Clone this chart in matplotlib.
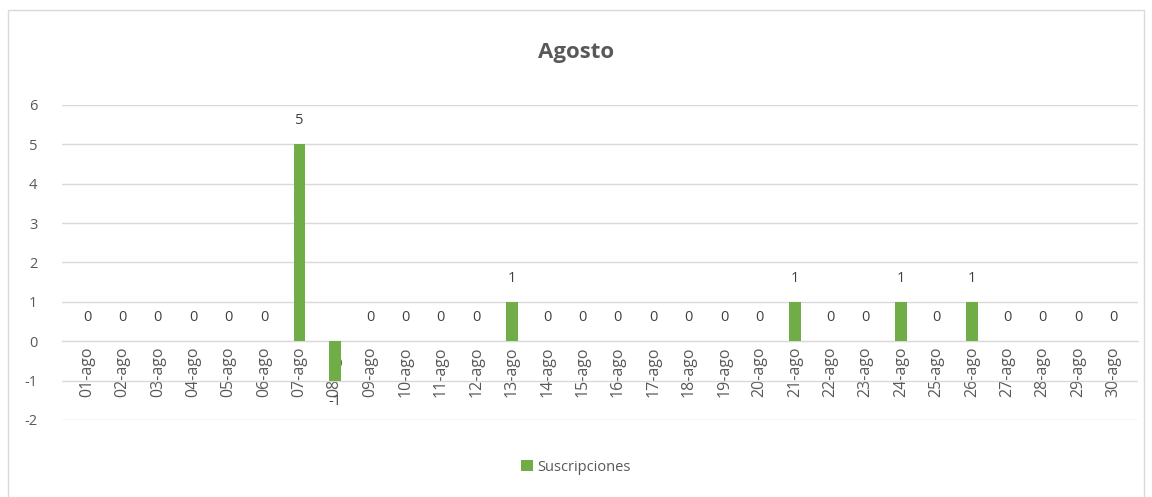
import numpy as np
import matplotlib.pyplot as plt
from matplotlib.patches import Rectangle

plt.rcParams['font.family'] = ['Open Sans', 'DejaVu Sans']
plt.rcParams['axes.unicode_minus'] = False

dias = [f"{d:02d}-ago" for d in range(1, 31)]
suscripciones = [0, 0, 0, 0, 0, 0, 5, -1, 0, 0, 0, 0, 1, 0, 0,
                 0, 0, 0, 0, 0, 1, 0, 0, 1, 0, 1, 0, 0, 0, 0]

verde = '#70AD47'
gris_texto = '#595959'
gris_linea = '#D9D9D9'

fig = plt.figure(figsize=(11.52, 4.97), dpi=100)
ax = fig.add_axes([0.054, 0.155, 0.934, 0.634])

x = np.arange(len(dias))
ax.bar(x, suscripciones, width=0.33, color=verde, label='Suscripciones', zorder=3)

# etiquetas de datos
for xi, v in zip(x, suscripciones):
    if v < 0:
        ax.text(xi, v - 0.35, str(v), ha='center', va='top', fontsize=10.5, color='#404040', zorder=4)
    else:
        ax.text(xi, v + 0.4, str(v), ha='center', va='bottom', fontsize=10.5, color='#404040', zorder=4)

ax.set_ylim(-2, 6)
ax.set_xlim(-0.7, len(dias) - 0.3)
ax.set_yticks(range(-2, 7))
ax.yaxis.grid(True, color=gris_linea, linewidth=1, zorder=0)
ax.set_axisbelow(True)

ax.set_xticks(x, dias)
ax.tick_params(axis='x', length=0, pad=4, labelrotation=90, labelsize=11.5, labelcolor=gris_texto)
ax.tick_params(axis='y', length=0, pad=18, labelsize=10.5, labelcolor=gris_texto)

for s in ['top', 'right', 'left']:
    ax.spines[s].set_visible(False)
ax.spines['bottom'].set_position(('data', 0))
ax.spines['bottom'].set_color(gris_linea)

fig.text(0.5, 0.895, 'Agosto', ha='center', va='center', fontsize=16, fontweight='bold', color=gris_texto)

leg = fig.legend(loc='center', bbox_to_anchor=(0.5, 0.06), frameon=False, fontsize=10.5,
                 handlelength=0.8, handleheight=0.8, handletextpad=0.3)
for t in leg.get_texts():
    t.set_color(gris_texto)

# borde del gráfico
fig.patches.append(Rectangle((0.007, -0.01), 0.986, 0.99, transform=fig.transFigure,
                             fill=False, edgecolor='#D9D9D9', linewidth=1))

plt.savefig('out.png', dpi=100)
